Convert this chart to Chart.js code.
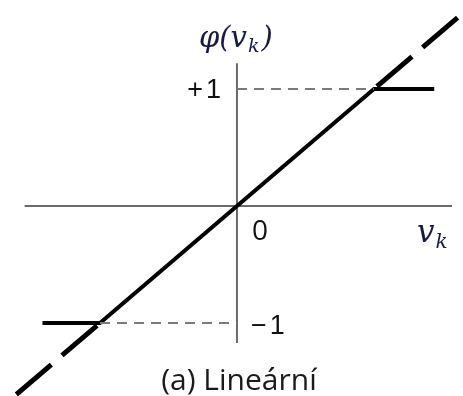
<!DOCTYPE html>
<html>
<head>
<meta charset="utf-8">
<script src="https://cdn.jsdelivr.net/npm/chart.js@4.4.1/dist/chart.umd.min.js"></script>
<style>
  html, body { margin: 0; padding: 0; background: #fff; }
  #wrap { width: 463px; height: 396px; position: relative; }
</style>
</head>
<body>
<div id="wrap"><canvas id="c"></canvas></div>
<script>
// Piecewise-linear activation: phi(v) = -1 for v < -1, v for |v| <= 1, +1 for v > 1
const solidX = [-1.42, -1, 1, 1.44];
const solidY = [-1, -1, 1, 1];

// Unsaturated linear continuation (dashed), beyond the breakpoints
const extUpperX = [1, 1.68];
const extUpperY = [1, 1.68];
const extLowerX = [-1, -1.66];
const extLowerY = [-1, -1.66];

// Guide lines from the vertical axis to the saturation corners
const guideUpperX = [0, 1];
const guideUpperY = [1, 1];
const guideLowerX = [-1, 0];
const guideLowerY = [-1, -1];

// Axis extents
const axisXRange = [-1.55, 1.57];
const axisYRange = [-1.17, 1.22];

// Text
const tickLabels = ['+1', '\u22121'];
const tickValues = [1, -1];
const originLabel = '0';
const xAxisName = ['v', 'k'];
const yAxisName = ['\u03C6(v', 'k', ')'];
const caption = '(a) Line\u00E1rn\u00ED';

const pts = (xs, ys) => xs.map((x, i) => ({ x: x, y: ys[i] }));

const axesPlugin = {
  id: 'axesPlugin',
  beforeDatasetsDraw(chart) {
    const ctx = chart.ctx, sx = chart.scales.x, sy = chart.scales.y;
    const x0 = sx.getPixelForValue(0), y0 = sy.getPixelForValue(0);
    ctx.save();
    ctx.strokeStyle = '#6a6a6a';
    ctx.lineWidth = 2;
    ctx.beginPath();
    ctx.moveTo(sx.getPixelForValue(axisXRange[0]), y0);
    ctx.lineTo(sx.getPixelForValue(axisXRange[1]), y0);
    ctx.moveTo(x0, sy.getPixelForValue(axisYRange[0]));
    ctx.lineTo(x0, sy.getPixelForValue(axisYRange[1]));
    ctx.stroke();
    ctx.restore();
  },
  afterDraw(chart) {
    const ctx = chart.ctx, sx = chart.scales.x, sy = chart.scales.y;
    const x0 = sx.getPixelForValue(0), y0 = sy.getPixelForValue(0);
    ctx.save();
    ctx.fillStyle = '#111';
    ctx.textBaseline = 'alphabetic';

    // +1 / -1 labels
    ctx.font = '27px "Liberation Sans", Arial, sans-serif';
    ctx.letterSpacing = '3px';
    ctx.textAlign = 'right';
    ctx.fillText(tickLabels[0], x0 - 13, sy.getPixelForValue(tickValues[0]) + 9);
    ctx.textAlign = 'left';
    ctx.fillText(tickLabels[1], x0 + 14, sy.getPixelForValue(tickValues[1]) + 11);
    ctx.letterSpacing = '0px';

    // origin
    ctx.font = '28px "Open Sans", sans-serif';
    ctx.fillText(originLabel, x0 + 15, y0 + 34);

    // v_k
    ctx.font = 'italic 31px "DejaVu Serif", serif';
    ctx.fillStyle = '#141a40';
    let xv = 417;
    ctx.fillText(xAxisName[0], xv, y0 + 36);
    let w = ctx.measureText(xAxisName[0]).width;
    ctx.font = 'italic 20px "DejaVu Serif", serif';
    ctx.fillText(xAxisName[1], xv + w + 1, y0 + 42);

    // phi(v_k)
    ctx.font = 'italic 29px "DejaVu Serif", serif';
    let xp = 199, yp = 47;
    ctx.fillText(yAxisName[0], xp, yp);
    w = ctx.measureText(yAxisName[0]).width;
    ctx.font = 'italic 19px "DejaVu Serif", serif';
    ctx.fillText(yAxisName[1], xp + w + 1, yp + 5);
    const w2 = ctx.measureText(yAxisName[1]).width;
    ctx.font = 'italic 29px "DejaVu Serif", serif';
    ctx.fillText(yAxisName[2], xp + w + w2 + 3, yp);

    // caption
    ctx.font = '30px "Open Sans", sans-serif';
    ctx.fillStyle = '#1a1a1a';
    ctx.textAlign = 'center';
    ctx.fillText(caption, x0 + 2, 390);
    ctx.restore();
  }
};

new Chart(document.getElementById('c'), {
  type: 'scatter',
  data: {
    datasets: [
      { data: pts(guideUpperX, guideUpperY), showLine: true, borderColor: '#7a7a7a', borderWidth: 2, borderDash: [10, 7], pointRadius: 0 },
      { data: pts(guideLowerX, guideLowerY), showLine: true, borderColor: '#7a7a7a', borderWidth: 2, borderDash: [10, 7], pointRadius: 0 },
      { data: pts(extUpperX, extUpperY), showLine: true, borderColor: '#000', borderWidth: 5, borderDash: [46, 14], borderDashOffset: -4, pointRadius: 0 },
      { data: pts(extLowerX, extLowerY), showLine: true, borderColor: '#000', borderWidth: 5, borderDash: [46, 14], borderDashOffset: -4, pointRadius: 0 },
      { data: pts(solidX, solidY), showLine: true, borderColor: '#000', borderWidth: 4, pointRadius: 0, borderJoinStyle: 'miter' }
    ]
  },
  options: {
    responsive: true,
    maintainAspectRatio: false,
    animation: false,
    layout: { padding: 0 },
    plugins: { legend: { display: false }, tooltip: { enabled: false } },
    scales: {
      x: { type: 'linear', display: false, min: -1.73, max: 1.65 },
      y: { type: 'linear', display: false, min: -1.624, max: 1.761 }
    }
  },
  plugins: [axesPlugin]
});
</script>
</body>
</html>
